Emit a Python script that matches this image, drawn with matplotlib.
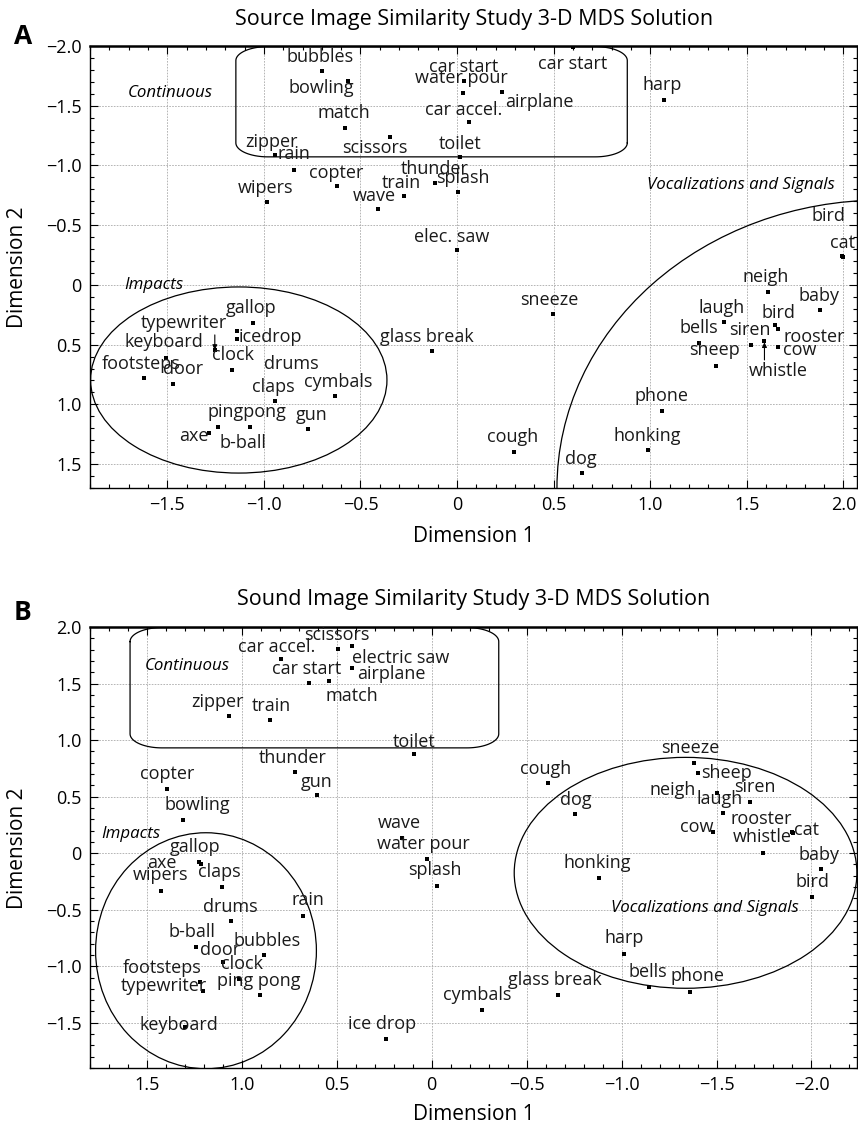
import numpy as np
import matplotlib
matplotlib.use("Agg")
import matplotlib.pyplot as plt
from matplotlib.patches import Ellipse
from matplotlib.ticker import MultipleLocator, FuncFormatter

plt.rcParams['font.family'] = ['Open Sans', 'DejaVu Sans']

# ---- panel A: source image similarity, MDS dims 1 and 2 ----
a_names = ["bubbles", "bowling", "match", "scissors", "zipper", "rain", "copter",
           "wipers", "wave", "train", "thunder", "splash", "toilet", "car accel.",
           "airplane", "car start", "water pour", "car start", "harp", "elec. saw",
           "bird", "cat", "sneeze", "glass break", "cough", "dog", "honking", "phone",
           "neigh", "baby", "laugh", "bird", "rooster", "bells", "siren", "whistle",
           "cow", "sheep", "gallop", "typewriter", "icedrop", "keyboard", "footsteps",
           "door", "clock", "drums", "claps", "cymbals", "pingpong", "b-ball", "gun", "axe"]
a_dim1 = [-0.70, -0.565, -0.58, -0.347, -0.943, -0.845, -0.62,
          -0.984, -0.41, -0.275, -0.114, 0.005, 0.016, 0.062,
          0.233, 0.036, 0.031, 0.60, 1.073, 0.0,
          1.99, 1.995, 0.497, -0.13, 0.295, 0.648, 0.99, 1.062,
          1.611, 1.876, 1.383, 1.648, 1.663, 1.254, 1.523, 1.591,
          1.663, 1.342, -1.057, -1.14, -1.14, -1.254, -1.622,
          -1.472, -1.166, -1.508, -0.943, -0.632, -1.073, -1.238, -0.772, -1.285]
a_dim2 = [-1.79, -1.71, -1.315, -1.24, -1.09, -0.963, -0.83,
          -0.695, -0.637, -0.745, -0.854, -0.779, -1.072, -1.365,
          -1.616, -1.709, -1.608, -1.99, -1.55, -0.293,
          -0.24, -0.235, 0.243, 0.553, 1.40, 1.575, 1.382, 1.055,
          0.059, 0.209, 0.31, 0.335, 0.368, 0.486, 0.503, 0.469,
          0.519, 0.678, 0.318, 0.385, 0.452, 0.544, 0.779,
          0.829, 0.712, 0.611, 0.972, 0.93, 1.189, 1.189, 1.206, 1.24]
# label offsets from the point, in pixels
a_off = [(-2, 14), (-27, -7), (-1, 15), (-15, -11), (-3, 13), (0, 16), (-1, 13),
         (-1, 14), (-4, 13), (-3, 13), (0, 14), (5, 14), (0, 13), (-5, 12),
         (37, -10), (0, 14), (-2, 15), (0, -17), (-2, 15), (-5, 13),
         (-13, 40), (0, 14), (-4, 14), (-5, 14), (-1, 15), (-1, 14), (-1, 14), (-1, 15),
         (-3, 15), (-1, 14), (-3, 14), (3, 12), (36, -8), (-1, 15), (-1, 15), (14, -30),
         (21, -3), (-2, 16), (-2, 15), (-53, 8), (34, 2), (-51, 8), (-3, 14),
         (10, 15), (1, 15), (126, -6), (-2, 14), (3, 14), (-3, 15), (25, -16), (4, 14), (-15, -3)]

# ---- panel B: sound image similarity ----
b_names = ["scissors", "electric saw", "car accel.", "airplane", "car start", "match",
           "zipper", "train", "toilet", "thunder", "gun", "copter", "bowling", "wave",
           "water pour", "splash", "gallop", "axe", "claps", "wipers", "drums", "rain",
           "b-ball", "door", "bubbles", "clock", "ping pong", "footsteps", "typewriter",
           "keyboard", "ice drop", "sneeze", "sheep", "neigh", "siren", "laugh", "cow",
           "cat", "rooster", "whistle", "cough", "dog", "honking", "baby", "bird", "harp",
           "bells", "phone", "glass break", "cymbals"]
b_dim1 = [0.495, 0.421, 0.795, 0.421, 0.647, 0.542,
          1.068, 0.853, 0.095, 0.721, 0.605, 1.395, 1.31, 0.158,
          0.026, -0.026, 1.226, 1.216, 1.105, 1.426, 1.058, 0.679,
          1.242, 1.10, 0.884, 1.016, 0.905, 1.221, 1.205,
          1.30, 0.242, -1.379, -1.405, -1.50, -1.674, -1.532, -1.479,
          -1.90, -1.905, -1.747, -0.611, -0.753, -0.879, -2.053, -2.005, -1.011,
          -1.142, -1.358, -0.663, -0.263]
b_dim2 = [1.806, 1.833, 1.718, 1.636, 1.503, 1.521,
          1.211, 1.175, 0.878, 0.719, 0.516, 0.569, 0.295, 0.135,
          -0.05, -0.289, -0.077, -0.095, -0.297, -0.332, -0.597, -0.56,
          -0.833, -0.966, -0.904, -1.117, -1.25, -1.143, -1.223,
          -1.541, -1.647, 0.798, 0.71, 0.533, 0.454, 0.356, 0.188,
          0.188, 0.18, 0.003, 0.622, 0.348, -0.218, -0.138, -0.386, -0.891,
          -1.183, -1.227, -1.253, -1.386]
b_off = [(-1, 14), (49, -12), (-4, 12), (40, -6), (-2, 14), (23, -15),
         (-11, 14), (2, 14), (0, 12), (-2, 14), (0, 13), (0, 15), (14, 15), (-2, 15),
         (-3, 15), (-2, 16), (-4, 15), (-39, 1), (-3, 15), (0, 16), (-1, 14), (5, 16),
         (-4, 15), (-3, 12), (3, 14), (3, 15), (-1, 14), (-38, 14), (-39, 5),
         (-6, 2), (-4, 15), (-3, 15), (28, 0), (-44, 3), (5, 15), (-3, 14), (-16, 5),
         (14, 2), (-32, 14), (-1, 16), (-2, 14), (1, 14), (-1, 15), (-2, 14), (0, 15), (1, 16),
         (-1, 15), (8, 16), (-3, 15), (-4, 15)]

W, H = 858, 1126
fig = plt.figure(figsize=(W / 100, H / 100), dpi=100)
axA = fig.add_axes([90 / W, 1 - 488 / H, 767 / W, 442 / H])
axB = fig.add_axes([90 / W, 1 - 1068 / H, 767 / W, 441 / H])


def fmt(v, pos):
    if abs(v) < 1e-9:
        return "0"
    return ("%.1f" % v).replace("-", "\u2212")


def rounded_box(ax, x0, x1, y0, y1, rx, ry):
    t = np.linspace(0, np.pi / 2, 25)
    xs, ys = [], []
    for (cx, cy, a0) in [(x1 - rx, y1 - ry, 0), (x0 + rx, y1 - ry, np.pi / 2),
                         (x0 + rx, y0 + ry, np.pi), (x1 - rx, y0 + ry, 1.5 * np.pi)]:
        xs.extend(cx + rx * np.cos(t + a0))
        ys.extend(cy + ry * np.sin(t + a0))
    xs.append(xs[0])
    ys.append(ys[0])
    ax.plot(xs, ys, color="k", lw=0.9)


def setup(ax):
    ax.xaxis.set_major_locator(MultipleLocator(0.5))
    ax.yaxis.set_major_locator(MultipleLocator(0.5))
    ax.xaxis.set_minor_locator(MultipleLocator(0.1))
    ax.yaxis.set_minor_locator(MultipleLocator(0.1))
    ax.xaxis.set_major_formatter(FuncFormatter(fmt))
    ax.yaxis.set_major_formatter(FuncFormatter(fmt))
    ax.tick_params(which="both", direction="in", top=True, right=True, width=0.8)
    ax.tick_params(which="major", length=6, labelsize=13, pad=6)
    ax.tick_params(which="minor", length=3)
    ax.grid(True, which="major", color="#aaaaaa", linestyle=(0, (2, 1.5)), linewidth=0.6)
    ax.set_axisbelow(True)
    for s in ax.spines.values():
        s.set_linewidth(1.0)
    ax.spines["top"].set_linewidth(1.8)


def draw_points(ax, names, xs, ys, offs):
    ax.plot(xs, ys, "s", color="k", ms=2.2, mew=0, zorder=3)
    for n, x, y, o in zip(names, xs, ys, offs):
        ax.annotate(n, (x, y), xytext=o, textcoords="offset pixels",
                    ha="center", va="center", fontsize=13, color="#1a1a1a",
                    annotation_clip=False)


# panel A
setup(axA)
axA.set_xlim(-1.9, 2.07)
axA.set_ylim(1.7, -2.0)
draw_points(axA, a_names, a_dim1, a_dim2, a_off)
rounded_box(axA, -1.145, 0.881, -1.995, -1.072, 0.166, 0.117)
axA.add_patch(Ellipse((-1.13, 0.796), 1.534, 1.558, fill=False, lw=0.9, color="k"))
axA.add_patch(Ellipse((2.197, 1.70), 3.36, 4.82, fill=False, lw=0.9, color="k"))
ik = a_names.index("keyboard")
axA.annotate("", (a_dim1[ik], a_dim2[ik]), xytext=(0, 15), textcoords="offset pixels",
             arrowprops=dict(arrowstyle="-|>", color="k", lw=0.8, mutation_scale=7,
                             shrinkA=0, shrinkB=0))
iw = a_names.index("whistle")
axA.annotate("", (a_dim1[iw], a_dim2[iw]), xytext=(0, -19), textcoords="offset pixels",
             arrowprops=dict(arrowstyle="-|>", color="k", lw=0.8, mutation_scale=7,
                             shrinkA=0, shrinkB=1))
axA.text(-1.487, -1.608, "Continuous", style="italic", fontsize=12.2, ha="center", va="center")
axA.text(-1.57, 0.0, "Impacts", style="italic", fontsize=12.2, ha="center", va="center")
axA.text(1.47, -0.837, "Vocalizations and Signals", style="italic", fontsize=12.2,
         ha="center", va="center")

# panel B
setup(axB)
axB.set_xlim(1.8, -2.24)
axB.set_ylim(-1.9, 2.0)
draw_points(axB, b_names, b_dim1, b_dim2, b_off)
rounded_box(axB, -0.353, 1.589, 0.931, 1.995, 0.168, 0.124)
axB.add_patch(Ellipse((1.189, -0.863), 1.163, 2.087, fill=False, lw=0.9, color="k"))
axB.add_patch(Ellipse((-1.337, -0.174), 1.805, 2.042, fill=False, lw=0.9, color="k"))
axB.text(1.289, 1.656, "Continuous", style="italic", fontsize=12.2, ha="center", va="center")
axB.text(1.584, 0.171, "Impacts", style="italic", fontsize=12.2, ha="center", va="center")
axB.text(-1.437, -0.482, "Vocalizations and Signals", style="italic", fontsize=12.2,
         ha="center", va="center")

# titles and axis labels
fig.text(474 / W, 1 - 19 / H, "Source Image Similarity Study 3-D MDS Solution",
         ha="center", va="center", fontsize=15.5)
fig.text(474 / W, 1 - 600 / H, "Sound Image Similarity Study 3-D MDS Solution",
         ha="center", va="center", fontsize=15.5)
for yc in (537, 1114):
    fig.text(474 / W, 1 - yc / H, "Dimension 1", ha="center", va="center", fontsize=15)
for yc in (267, 848):
    fig.text(18 / W, 1 - yc / H, "Dimension 2", ha="center", va="center", fontsize=15,
             rotation=90)
fig.text(23 / W, 1 - 37 / H, "A", ha="center", va="center", fontsize=19, weight="bold")
fig.text(23 / W, 1 - 613 / H, "B", ha="center", va="center", fontsize=19, weight="bold")

fig.savefig("out.png", dpi=100)
